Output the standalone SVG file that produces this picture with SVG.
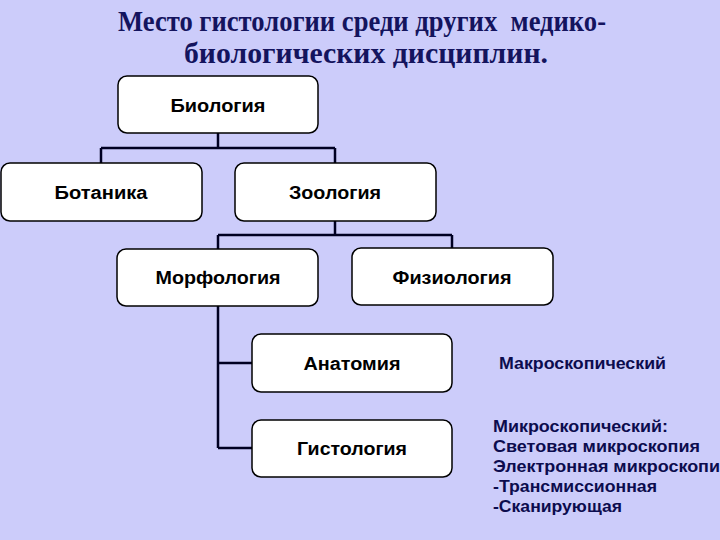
<svg xmlns="http://www.w3.org/2000/svg" width="720" height="540" viewBox="0 0 720 540">
<style>
.bg{fill:#CCCCFA}
.title{font-family:"Liberation Serif","Times New Roman",serif;font-weight:bold;font-size:29px;fill:#14145e;text-anchor:middle;white-space:pre}
.box{fill:#ffffff;stroke:#000000;stroke-width:1.5}
.lbl{font-family:"Liberation Sans",Arial,sans-serif;font-weight:bold;font-size:18px;fill:#000000;text-anchor:middle}
.note{font-family:"Liberation Sans",Arial,sans-serif;font-weight:bold;font-size:17px;fill:#0c0c4e}
.conn{fill:none;stroke:#000022;stroke-width:2.5}
</style>
<rect class="bg" x="0" y="0" width="720" height="540"/>
<g id="title">
<text class="title" x="362" y="31" textLength="488" lengthAdjust="spacingAndGlyphs" xml:space="preserve">Место гистологии среди других  медико-</text>
<text class="title" x="366" y="63" textLength="364" lengthAdjust="spacingAndGlyphs">биологических дисциплин.</text>
</g>
<g id="connectors">
<path class="conn" d="M218,133 V148 M101,148 H335 M101,148 V163 M335,148 V163"/>
<path class="conn" d="M335,221 V235 M218,235 H452 M218,235 V249 M452,235 V248"/>
<path class="conn" d="M218,306 V448 M218,363 H252 M218,448 H252"/>
</g>
<g id="biologiya">
<rect class="box" x="118" y="76" width="200" height="57" rx="9"/>
<text class="lbl" x="218" y="112" textLength="95" lengthAdjust="spacingAndGlyphs">Биология</text>
</g>
<g id="botanika">
<rect class="box" x="1" y="163" width="201" height="58" rx="9"/>
<text class="lbl" x="101" y="199" textLength="93" lengthAdjust="spacingAndGlyphs">Ботаника</text>
</g>
<g id="zoologiya">
<rect class="box" x="235" y="163" width="201" height="58" rx="9"/>
<text class="lbl" x="335" y="199" textLength="92" lengthAdjust="spacingAndGlyphs">Зоология</text>
</g>
<g id="morfologiya">
<rect class="box" x="117" y="249" width="201" height="57" rx="9"/>
<text class="lbl" x="218" y="284" textLength="125" lengthAdjust="spacingAndGlyphs">Морфология</text>
</g>
<g id="fiziologiya">
<rect class="box" x="352" y="248" width="201" height="57" rx="9"/>
<text class="lbl" x="452" y="284" textLength="119" lengthAdjust="spacingAndGlyphs">Физиология</text>
</g>
<g id="anatomiya">
<rect class="box" x="252" y="334" width="200" height="58" rx="9"/>
<text class="lbl" x="352" y="370" textLength="97" lengthAdjust="spacingAndGlyphs">Анатомия</text>
</g>
<g id="gistologiya">
<rect class="box" x="252" y="420" width="200" height="57" rx="9"/>
<text class="lbl" x="352" y="455" textLength="110" lengthAdjust="spacingAndGlyphs">Гистология</text>
</g>
<g id="notes">
<text class="note" x="499" y="369" textLength="167" lengthAdjust="spacingAndGlyphs">Макроскопический</text>
<text class="note" x="493" y="432" textLength="175" lengthAdjust="spacingAndGlyphs">Микроскопический:</text>
<text class="note" x="493" y="452" textLength="207" lengthAdjust="spacingAndGlyphs">Световая микроскопия</text>
<text class="note" x="493" y="472" textLength="227" lengthAdjust="spacingAndGlyphs">Электронная микроскопи</text>
<text class="note" x="493" y="492" textLength="164" lengthAdjust="spacingAndGlyphs">-Трансмиссионная</text>
<text class="note" x="493" y="512" textLength="129" lengthAdjust="spacingAndGlyphs">-Сканирующая</text>
</g>
</svg>
